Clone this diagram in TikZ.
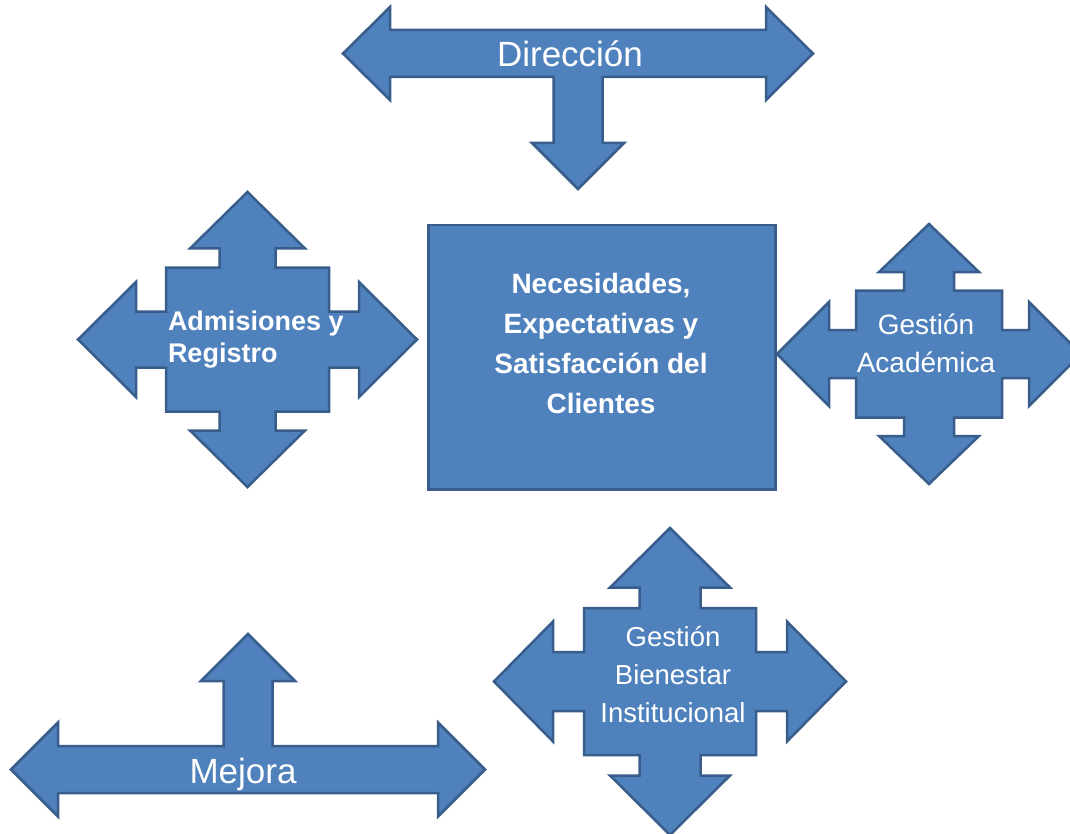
\documentclass[tikz,border=0pt]{standalone}
\usepackage{fontspec}
\setmainfont{Liberation Sans}
\definecolor{boxfill}{HTML}{4F81BD}
\definecolor{boxline}{HTML}{385D8A}
\tikzset{
  shapeblue/.style={fill=boxfill, draw=boxline, line width=2.5pt, line join=miter},
  lbl/.style={text=white, inner sep=0pt, outer sep=0pt},
}
\begin{document}
\begin{tikzpicture}[x=1pt,y=-1pt]
\useasboundingbox (0,0) rectangle (1070,834);
\clip (0,0) rectangle (1070,834);

% ---------- Direccion (T arrow pointing down) ----------
\def\cx{578}\def\cy{53.5}
\draw[shapeblue] (\cx-235,\cy) -- (\cx-188,\cy-46.5) -- (\cx-188,\cy-23.5) -- (\cx+188,\cy-23.5)
  -- (\cx+188,\cy-46.5) -- (\cx+235,\cy) -- (\cx+188,\cy+46.5) -- (\cx+188,\cy+23.5)
  -- (\cx+24.5,\cy+23.5) -- (\cx+24.5,143) -- (\cx+46,143) -- (\cx,189) -- (\cx-46,143)
  -- (\cx-24.5,143) -- (\cx-24.5,\cy+23.5) -- (\cx-188,\cy+23.5) -- (\cx-188,\cy+46.5) -- cycle;
\node[lbl, anchor=base, font=\fontsize{35}{40}\selectfont] (dir) at (570,67) {Dirección};

% ---------- Mejora (T arrow pointing up) ----------
\def\cx{248}\def\cy{769.5}
\draw[shapeblue] (\cx-237,\cy) -- (\cx-190,\cy-47) -- (\cx-190,\cy-23.5) -- (\cx-24.5,\cy-23.5)
  -- (\cx-24.5,681) -- (\cx-47,681) -- (\cx,634) -- (\cx+47,681) -- (\cx+24.5,681)
  -- (\cx+24.5,\cy-23.5) -- (\cx+190,\cy-23.5) -- (\cx+190,\cy-47) -- (\cx+237,\cy)
  -- (\cx+190,\cy+47) -- (\cx+190,\cy+23.5) -- (\cx-190,\cy+23.5) -- (\cx-190,\cy+47) -- cycle;
\node[lbl, anchor=base, font=\fontsize{35}{40}\selectfont] (mej) at (243,783) {Mejora};

% ---------- Admisiones y Registro ----------
\begin{scope}[shift={(247.5,339.5)}]
\draw[shapeblue] (-169.5,0) -- (-111.5,-57.5) -- (-111.5,-28) -- (-81.5,-28) -- (-81.5,-72)
  -- (-28,-72) -- (-28,-91) -- (-57.5,-91) -- (0,-147.5) -- (57.5,-91) -- (28,-91) -- (28,-72)
  -- (81.5,-72) -- (81.5,-28) -- (111.5,-28) -- (111.5,-57.5) -- (169.5,0) -- (111.5,57.5)
  -- (111.5,28) -- (81.5,28) -- (81.5,72) -- (28,72) -- (28,91) -- (57.5,91) -- (0,147.5)
  -- (-57.5,91) -- (-28,91) -- (-28,72) -- (-81.5,72) -- (-81.5,28) -- (-111.5,28)
  -- (-111.5,57.5) -- cycle;
\end{scope}
\node[lbl, anchor=base west, align=left, font=\bfseries\fontsize{27}{32}\selectfont] (adm) at (168,362) {Admisiones y\\Registro};

% ---------- Gestion Academica ----------
\begin{scope}[shift={(929,354)}]
\draw[shapeblue] (-152,0) -- (-100,-52) -- (-100,-24) -- (-73,-24) -- (-73,-63.5)
  -- (-25,-63.5) -- (-25,-82) -- (-50,-82) -- (0,-130) -- (50,-82) -- (25,-82) -- (25,-63.5)
  -- (73,-63.5) -- (73,-24) -- (100,-24) -- (100,-52) -- (152,0) -- (100,52)
  -- (100,24) -- (73,24) -- (73,63.5) -- (25,63.5) -- (25,82) -- (50,82) -- (0,130)
  -- (-50,82) -- (-25,82) -- (-25,63.5) -- (-73,63.5) -- (-73,24) -- (-100,24)
  -- (-100,52) -- cycle;
\end{scope}
\node[lbl, anchor=base, align=center, font=\fontsize{28}{38}\selectfont] (aca) at (926,372) {Gestión\\Académica};

% ---------- Gestion Bienestar Institucional ----------
\begin{scope}[shift={(670,681.5)}]
\draw[shapeblue] (-176,0) -- (-117,-60) -- (-117,-29.5) -- (-86,-29.5) -- (-86,-73.5)
  -- (-30.5,-73.5) -- (-30.5,-94) -- (-60,-94) -- (0,-153.5) -- (60,-94) -- (30.5,-94) -- (30.5,-73.5)
  -- (86,-73.5) -- (86,-29.5) -- (117,-29.5) -- (117,-60) -- (176,0) -- (117,60)
  -- (117,29.5) -- (86,29.5) -- (86,73.5) -- (30.5,73.5) -- (30.5,94) -- (60,94) -- (0,153.5)
  -- (-60,94) -- (-30.5,94) -- (-30.5,73.5) -- (-86,73.5) -- (-86,29.5) -- (-117,29.5)
  -- (-117,60) -- cycle;
\end{scope}
\node[lbl, anchor=base, align=center, font=\fontsize{27.5}{38}\selectfont] (bie) at (673,722) {Gestión\\Bienestar\\Institucional};

% ---------- central box ----------
\node[shapeblue, minimum width=347pt, minimum height=264pt, inner sep=0pt, anchor=north west] (ctr) at (427,224) {};
\node[lbl, anchor=base, align=center, font=\bfseries\fontsize{28}{40}\selectfont] (ctrt) at (601,413) {Necesidades,\\Expectativas y\\Satisfacción del\\Clientes};
\end{tikzpicture}
\end{document}
